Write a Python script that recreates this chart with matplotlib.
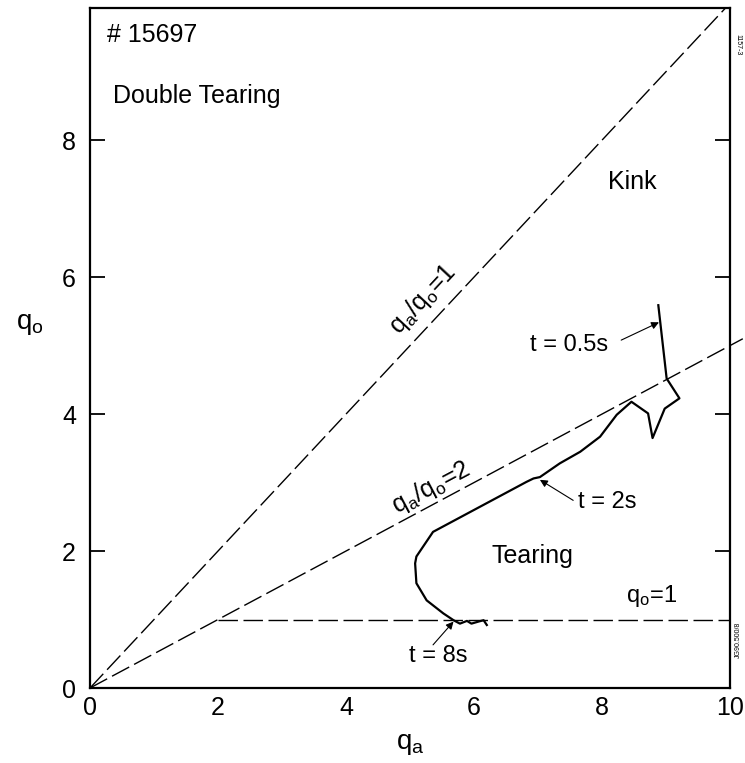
import numpy as np
import matplotlib.pyplot as plt

plt.rcParams['font.family'] = ['Liberation Sans', 'DejaVu Sans']

# trajectory of discharge #15697 in the (q_a, q_o) plane, t = 0.5s -> 8s
traj_qa = [8.88, 9.01, 9.21, 8.98, 8.79, 8.72, 8.46, 8.23, 7.97, 7.66, 7.34,
           7.03, 6.93, 6.82, 5.36, 5.10, 5.08, 5.10, 5.26, 5.52, 5.68,
           5.78, 5.89, 5.96, 6.07, 6.15, 6.20]
traj_q0 = [5.59, 4.52, 4.23, 4.08, 3.65, 4.01, 4.18, 3.99, 3.67, 3.45, 3.28,
           3.08, 3.06, 3.01, 2.28, 1.92, 1.82, 1.53, 1.28, 1.09, 0.99,
           0.94, 0.98, 0.94, 0.97, 0.99, 0.92]

# boundaries q_a/q_o = const and q_o = 1
ratios = [1, 2]
q0_one_start = 2.0

# time markers: (label, text pos, arrow tail, arrow tip)
time_labels = ['t = 0.5s', 't = 2s', 't = 8s']
time_text = [(7.48, 5.01), (8.08, 2.72), (5.44, 0.47)]
time_tail = [(8.30, 5.08), (7.55, 2.74), (5.36, 0.63)]
time_tip = [(8.89, 5.34), (7.03, 3.04), (5.68, 0.97)]

xticks = [0, 2, 4, 6, 8, 10]
yticks = [0, 2, 4, 6, 8]

fig = plt.figure(figsize=(7.45, 7.63), dpi=100)
ax = fig.add_axes([90 / 745, 75 / 763, 640 / 745, 680 / 763])
ax.set_xlim(0, 10)
ax.set_ylim(0, 9.93)

dash = dict(color='black', lw=1.0, dashes=(14, 4))
for r in ratios:
    qa_end = min(10.2, 9.93 * r)
    ax.plot([0, qa_end], [0, qa_end / r], clip_on=False, **dash)
ax.plot([q0_one_start, 10], [1, 1], **dash)

ax.plot(traj_qa, traj_q0, color='black', lw=1.6, solid_joinstyle='round')

for lab, txt, tail, tip in zip(time_labels, time_text, time_tail, time_tip):
    ax.annotate('', xy=tip, xytext=tail,
                arrowprops=dict(arrowstyle='-|>', lw=0.8, color='black',
                                mutation_scale=11, shrinkA=0, shrinkB=0))
    ax.text(txt[0], txt[1], lab, fontsize=17, ha='center', va='center')

ax.text(0.27, 9.53, '# 15697', fontsize=18, ha='left', va='center')
ax.text(0.36, 8.64, 'Double Tearing', fontsize=18, ha='left', va='center')
ax.text(8.47, 7.39, 'Kink', fontsize=18, ha='center', va='center')
ax.text(6.92, 1.93, 'Tearing', fontsize=18, ha='center', va='center')
ax.text(8.78, 1.34, r'$\mathregular{q_o}$=1', fontsize=17, ha='center', va='center')
ax.text(5.33, 2.93, r'$\mathregular{q_a/q_o}$=2', fontsize=18, ha='center',
        va='center', rotation=28)
ax.text(5.2, 5.68, r'$\mathregular{q_a/q_o}$=1', fontsize=18, ha='center',
        va='center', rotation=47)

# small plate numbers on the right edge
fig.text(738 / 745, 1 - 45 / 763, '1157-3', fontsize=5, rotation=270,
         ha='center', va='center')
fig.text(738 / 745, 1 - 640 / 763, 'JG90.500/8', fontsize=5, rotation=90,
         ha='center', va='center')

ax.set_xticks(xticks)
ax.set_yticks(yticks)
ax.tick_params(axis='both', labelsize=18, direction='in')
ax.tick_params(axis='x', length=0, pad=6)
ax.tick_params(axis='y', length=11, width=1.3, pad=10, right=True)
for s in ax.spines.values():
    s.set_linewidth(1.6)

ax.set_xlabel(r'$\mathregular{q_a}$', fontsize=20, labelpad=8)
ax.set_ylabel(r'$\mathregular{q_o}$', fontsize=20, rotation=0, va='center')
ax.yaxis.set_label_coords(-0.094, 0.535)

fig.savefig('out.png', dpi=100)
